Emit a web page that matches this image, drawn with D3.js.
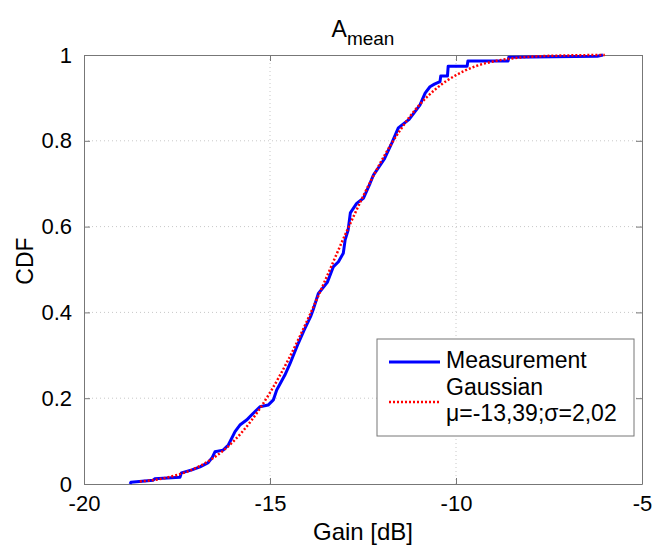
<html>
<head><meta charset="utf-8"></head>
<script src='https://d3js.org/d3.v7.min.js'></script>
<style>
body {margin:0; background:white;}
text {font-family: 'Liberation Sans', Arial, sans-serif; fill:black;}
</style>
<body>
<svg width=652 height=545></svg>
<script>
const measX = [-18.76,-18.74,-18.14,-18.10,-17.42,-17.38,-17.10,-16.88,-16.66,-16.55,-16.48,-16.26,-16.12,-15.94,-15.81,-15.63,-15.45,-15.27,-15.05,-14.91,-14.82,-14.60,-14.46,-14.24,-14.08,-13.90,-13.84,-13.70,-13.46,-13.30,-13.16,-13.03,-12.98,-12.90,-12.84,-12.67,-12.49,-12.31,-12.22,-11.93,-11.73,-11.55,-11.26,-10.97,-10.83,-10.70,-10.58,-10.43,-10.41,-10.23,-10.21,-9.70,-9.68,-8.60,-8.58,-6.20,-6.05];
const measY = [0,0.004,0.009,0.012,0.016,0.026,0.033,0.040,0.050,0.062,0.075,0.079,0.091,0.122,0.1375,0.149,0.165,0.180,0.184,0.196,0.219,0.254,0.281,0.328,0.359,0.392,0.406,0.444,0.470,0.506,0.518,0.538,0.569,0.592,0.632,0.654,0.666,0.701,0.720,0.757,0.794,0.830,0.850,0.883,0.911,0.926,0.932,0.938,0.951,0.951,0.974,0.974,0.986,0.986,0.995,0.997,1.0];

// gaussian fit curve
const gaussX = [-18.5,-18,-17.5,-17,-16.5,-16,-15.5,-15,-14.5,-14,-13.5,-13,-12.5,-12,-11.5,-11,-10.5,-10,-9.5,-9,-8.5,-8,-7.5,-7,-6.5,-6];
const gaussY = [0.006,0.011,0.021,0.037,0.062,0.098,0.148,0.213,0.291,0.381,0.478,0.577,0.670,0.754,0.825,0.882,0.924,0.953,0.973,0.985,0.992,0.996,0.998,0.999,0.9997,0.9999];

const xTicks = [-20,-15,-10,-5];
const yTicks = [0,0.2,0.4,0.6,0.8,1];
const legendLabels = ['Measurement','Gaussian','\u03bc=-13,39;\u03c3=2,02'];

const L = 84, R = 642, T = 55, B = 484;
const x = d3.scaleLinear([-20,-5],[L,R]);
const y = d3.scaleLinear([0,1],[B,T]);
const svg = d3.select('svg');

// grid
svg.append('g').selectAll('line').data(xTicks.slice(1,-1)).enter().append('line')
  .attr('x1',d=>x(d)).attr('x2',d=>x(d)).attr('y1',T).attr('y2',B)
  .attr('stroke','#c8c8c8').attr('stroke-dasharray','1,3');
svg.append('g').selectAll('line').data(yTicks.slice(1,-1)).enter().append('line')
  .attr('x1',L).attr('x2',R).attr('y1',d=>y(d)).attr('y2',d=>y(d))
  .attr('stroke','#c8c8c8').attr('stroke-dasharray','1,3');

// axes with inward ticks
const fmtX = d => String(d);
const fmtY = d => d===0||d===1 ? String(d) : d.toFixed(1);
const ax = [
  [d3.axisBottom(x).tickValues(xTicks).tickSizeInner(-6).tickSizeOuter(0).tickPadding(11).tickFormat(fmtX), `translate(0,${B})`],
  [d3.axisTop(x).tickValues(xTicks).tickSizeInner(-6).tickSizeOuter(0).tickFormat(''), `translate(0,${T})`],
  [d3.axisLeft(y).tickValues(yTicks).tickSizeInner(-6).tickSizeOuter(0).tickPadding(12).tickFormat(fmtY), `translate(${L},0)`],
  [d3.axisRight(y).tickValues(yTicks).tickSizeInner(-6).tickSizeOuter(0).tickFormat(''), `translate(${R},0)`]
];
ax.forEach(a => {
  const g = svg.append('g').attr('transform',a[1]).call(a[0]);
  g.select('.domain').attr('stroke','#777');
  g.selectAll('.tick line').attr('stroke','#777');
  g.selectAll('.tick text').attr('font-size',22).attr('font-family',"'Liberation Sans', Arial, sans-serif");
});

// curves
const line = d3.line().x(d=>x(d[0])).y(d=>y(d[1]));
svg.append('path').datum(measX.map((v,i)=>[v,measY[i]]))
  .attr('d',line).attr('fill','none').attr('stroke','#0000ff').attr('stroke-width',3)
  .attr('stroke-linejoin','round');
svg.append('path').datum(gaussX.map((v,i)=>[v,gaussY[i]]))
  .attr('d',line.curve(d3.curveMonotoneX)).attr('fill','none').attr('stroke','#ff0000')
  .attr('stroke-width',2.5).attr('stroke-dasharray','2,2');

// title
const title = svg.append('text').attr('x',363).attr('y',37).attr('text-anchor','middle').attr('font-size',23);
title.append('tspan').text('A');
title.append('tspan').attr('font-size',19).attr('dy',8).text('mean');

svg.append('text').attr('x',363).attr('y',540).attr('text-anchor','middle').attr('font-size',24).text('Gain [dB]');
svg.append('text').attr('transform','translate(33,261) rotate(-90)').attr('text-anchor','middle').attr('font-size',23).text('CDF');

// legend
const lg = svg.append('g');
lg.append('rect').attr('x',377).attr('y',339).attr('width',257).attr('height',97)
  .attr('fill','white').attr('stroke','#777');
lg.append('line').attr('x1',389).attr('x2',440).attr('y1',362).attr('y2',362)
  .attr('stroke','#0000ff').attr('stroke-width',3);
lg.append('line').attr('x1',389).attr('x2',440).attr('y1',402).attr('y2',402)
  .attr('stroke','#ff0000').attr('stroke-width',2.5).attr('stroke-dasharray','2,2');
lg.selectAll('text').data(legendLabels).enter().append('text')
  .attr('x',446).attr('y',(d,i)=>[368,395,421][i]).attr('font-size',23).text(d=>d);
</script>
</body>
</html>
